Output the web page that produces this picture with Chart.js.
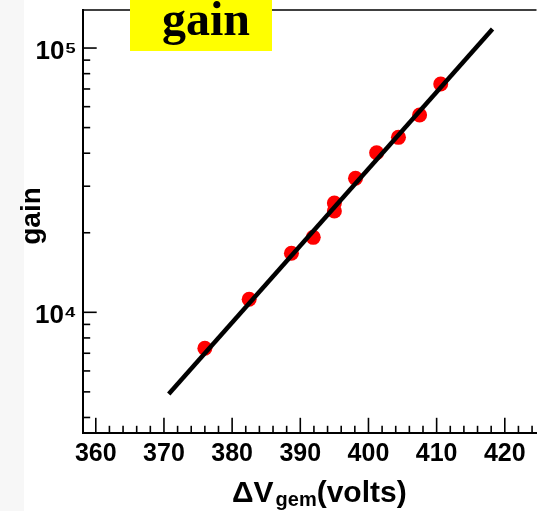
<!DOCTYPE html>
<html>
<head>
<meta charset="utf-8">
<script src="https://cdn.jsdelivr.net/npm/chart.js@4.4.0/dist/chart.umd.min.js"></script>
<style>
  html, body { margin: 0; padding: 0; background: #fff; }
  #grafico { display: block; }
</style>
</head>
<body>
<canvas id="grafico" width="544" height="511"></canvas>
<script>
    // medidas de ganho contra a tensao aplicada na GEM
    const tensoes = [376.0, 382.5, 388.7, 391.9, 395.0, 395.0, 398.1, 401.2, 404.4, 407.5, 410.6];
    const ganhos = [7310, 11200, 16720, 19220, 25910, 24170, 32140, 40180, 45930, 55790, 73080];

    // reta do ajuste exponencial (extremos)
    const ajusteTensao = [370.7, 418.2];
    const ajusteGanho = [4910, 118000];

    // rotulos dos eixos
    const rotulosX = [360, 370, 380, 390, 400, 410, 420];
    const rotulosY = [1e4, 1e5];
    const expoentes = { 4: '\u2074', 5: '\u2075' };

    const fonteEixo = '"Liberation Sans", Arial, Helvetica, sans-serif';

    // zera o espaco extra que o Chart.js reserva para os rotulos das pontas
    function semPadding(scale) {
        scale.paddingTop = 0;
        scale.paddingBottom = 0;
        scale.paddingLeft = 0;
        scale.paddingRight = 0;
    }

    // tracos dos ticks para dentro, linha de cima e titulos
    const molduraROOT = {
        id: 'molduraROOT',
        beforeDraw(chart) {
            const ctx = chart.ctx;
            ctx.save();
            ctx.fillStyle = '#f7f7f7';
            ctx.fillRect(0, 0, 24, chart.height);
            ctx.restore();
        },
        afterDraw(chart) {
            const ctx = chart.ctx;
            const area = chart.chartArea;
            const x = chart.scales.x;
            const y = chart.scales.y;
            ctx.save();
            ctx.strokeStyle = '#000';

            ctx.lineWidth = 1.5;
            ctx.beginPath();
            ctx.moveTo(area.left, area.top);
            ctx.lineTo(area.right, area.top);
            ctx.stroke();

            ctx.lineWidth = 1.6;
            x.ticks.forEach(function(t) {
                var px = x.getPixelForValue(t.value);
                var tam = rotulosX.indexOf(t.value) >= 0 ? 15.5 : 7.5;
                ctx.beginPath();
                ctx.moveTo(px, area.bottom);
                ctx.lineTo(px, area.bottom - tam);
                ctx.stroke();
            });
            y.ticks.forEach(function(t) {
                var py = y.getPixelForValue(t.value);
                var tam = rotulosY.indexOf(t.value) >= 0 ? 14 : 7.5;
                ctx.beginPath();
                ctx.moveTo(area.left, py);
                ctx.lineTo(area.left + tam, py);
                ctx.stroke();
            });

            // caixa amarela do titulo
            ctx.fillStyle = '#ffff00';
            ctx.fillRect(130, 0, 142, 51);
            ctx.fillStyle = '#000';
            ctx.font = 'bold 48px "Liberation Serif", "Times New Roman", serif';
            ctx.textAlign = 'center';
            ctx.textBaseline = 'alphabetic';
            ctx.fillText('gain', 206, 35);

            // titulo do eixo Y
            ctx.save();
            ctx.translate(40, 216);
            ctx.rotate(-Math.PI / 2);
            ctx.font = 'bold 28px ' + fonteEixo;
            ctx.fillText('gain', 0, 0);
            ctx.restore();

            // titulo do eixo X com subscrito
            ctx.textAlign = 'left';
            var xt = 232, base = 502;
            ctx.font = 'bold 30px ' + fonteEixo;
            ctx.fillText('\u0394V', xt, base);
            xt += ctx.measureText('\u0394V').width + 2;
            ctx.font = 'bold 20px ' + fonteEixo;
            ctx.fillText('gem', xt, base + 4);
            xt += ctx.measureText('gem').width;
            ctx.font = 'bold 30px ' + fonteEixo;
            ctx.fillText('(volts)', xt, base);
            ctx.restore();
        }
    };

    const ctx = document.getElementById('grafico').getContext('2d');

    window.graficoGanho = new Chart(ctx, {
        type: 'scatter',
        data: {
            datasets: [{
                data: ajusteTensao.map(function(v, i) { return { x: v, y: ajusteGanho[i] }; }),
                showLine: true,
                borderColor: '#000',
                borderWidth: 4.5,
                pointRadius: 0,
                order: 0
            }, {
                data: tensoes.map(function(v, i) { return { x: v, y: ganhos[i] }; }),
                showLine: false,
                backgroundColor: '#ff0000',
                borderWidth: 0,
                pointRadius: 7.5,
                order: 1
            }]
        },
        options: {
            responsive: false,
            animation: false,
            devicePixelRatio: 1,
            layout: { padding: { top: 10, right: 0, left: 0, bottom: 0 } },
            plugins: {
                legend: { display: false },
                tooltip: { enabled: false }
            },
            scales: {
                x: {
                    type: 'linear',
                    min: 358.08,
                    max: 424.65,
                    grid: { display: false, drawTicks: false },
                    border: { display: true, color: '#000', width: 2 },
                    afterBuildTicks: function(scale) {
                        var t = [];
                        for (var v = 360; v <= 424; v += 2) t.push({ value: v });
                        scale.ticks = t;
                    },
                    afterFit: function(scale) {
                        scale.height = 77.7;
                        semPadding(scale);
                    },
                    ticks: {
                        autoSkip: false,
                        maxRotation: 0,
                        padding: 6,
                        color: '#000',
                        font: { family: fonteEixo, size: 25, weight: 'bold' },
                        callback: function(v) { return rotulosX.indexOf(v) >= 0 ? String(v) : ''; }
                    }
                },
                y: {
                    type: 'logarithmic',
                    min: 3485,
                    max: 139300,
                    grid: { display: false, drawTicks: false },
                    border: { display: true, color: '#000', width: 2 },
                    afterBuildTicks: function(scale) {
                        var t = [];
                        [1e3, 1e4].forEach(function(d) {
                            for (var m = 1; m <= 9; m++) {
                                var v = m * d;
                                if (v >= 3485 && v <= 139300) t.push({ value: v });
                            }
                        });
                        t.push({ value: 1e5 });
                        scale.ticks = t;
                    },
                    afterFit: function(scale) {
                        scale.width = 82.7;
                        semPadding(scale);
                    },
                    ticks: {
                        autoSkip: false,
                        padding: 6,
                        labelOffset: 4,
                        color: '#000',
                        font: { family: fonteEixo, size: 26, weight: 'bold' },
                        callback: function(v) {
                            if (rotulosY.indexOf(v) < 0) return '';
                            return '10' + expoentes[Math.round(Math.log10(v))];
                        }
                    }
                }
            }
        },
        plugins: [molduraROOT]
    });
</script>
</body>
</html>
